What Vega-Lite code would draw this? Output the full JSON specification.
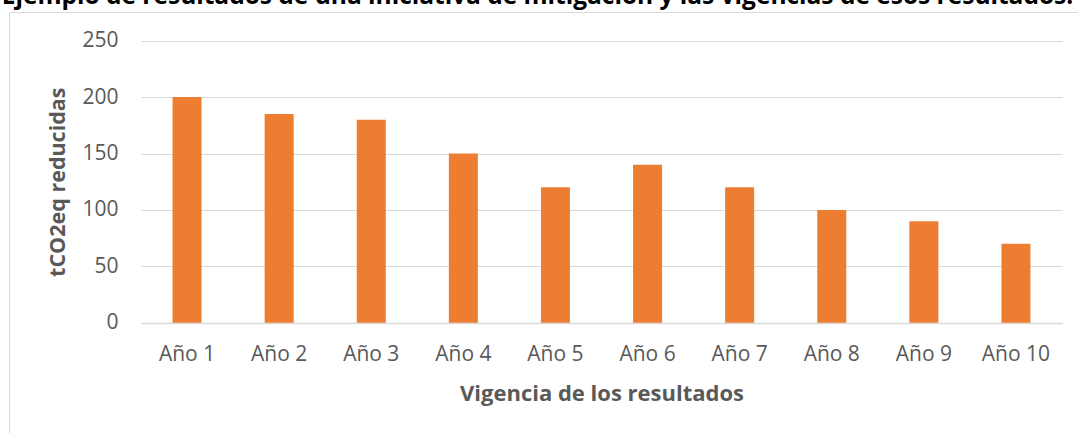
{
  "$schema": "https://vega.github.io/schema/vega-lite/v6.json",
  "autosize": {"type": "none"},
  "padding": {"left": 9, "top": 12, "right": 0, "bottom": 0},
  "width": 1069,
  "height": 421,
  "background": "white",
  "config": {
    "view": {"stroke": "#d9d9d9", "strokeWidth": 1},
    "font": "Open Sans"
  },
  "title": {
    "text": "Ejemplo de resultados de una iniciativa de mitigación y las vigencias de esos resultados.",
    "font": "Open Sans",
    "fontSize": 24.5,
    "fontWeight": "bold",
    "color": "#000000",
    "anchor": "middle",
    "baseline": "alphabetic",
    "offset": 7,
    "dy": 23,
    "dx": -6
  },
  "data": {
    "values": [
      {"anio": "Año 1", "valor": 200},
      {"anio": "Año 2", "valor": 185},
      {"anio": "Año 3", "valor": 180},
      {"anio": "Año 4", "valor": 150},
      {"anio": "Año 5", "valor": 120},
      {"anio": "Año 6", "valor": 140},
      {"anio": "Año 7", "valor": 120},
      {"anio": "Año 8", "valor": 100},
      {"anio": "Año 9", "valor": 90},
      {"anio": "Año 10", "valor": 70}
    ]
  },
  "mark": {"type": "bar", "color": "#ED7D31"},
  "encoding": {
    "x": {
      "field": "anio",
      "type": "nominal",
      "sort": null,
      "scale": {"range": [132, 1053], "paddingInner": 0.685, "paddingOuter": 0.3425},
      "axis": {
        "title": "Vigencia de los resultados",
        "titleFont": "Open Sans",
        "titleFontSize": 22,
        "titleFontWeight": "bold",
        "titleColor": "#595959",
        "titlePadding": 19,
        "labelFont": "Open Sans",
        "labelFontSize": 21,
        "labelColor": "#595959",
        "labelAngle": 0,
        "labelPadding": 20,
        "ticks": false,
        "domain": true,
        "domainColor": "#d9d9d9",
        "domainWidth": 1.5,
        "offset": -110,
        "grid": false
      }
    },
    "y": {
      "field": "valor",
      "type": "quantitative",
      "scale": {"domain": [0, 250], "range": [310.7, 28.7], "nice": false},
      "axis": {
        "title": "tCO2eq reducidas",
        "titleFont": "Open Sans",
        "titleFontSize": 21.5,
        "titleFontWeight": "bold",
        "titleColor": "#595959",
        "titlePadding": 12,
        "labelFont": "Open Sans",
        "labelFontSize": 21,
        "labelColor": "#595959",
        "labelPadding": 23,
        "values": [0, 50, 100, 150, 200, 250],
        "ticks": false,
        "domain": false,
        "grid": true,
        "gridColor": "#d9d9d9",
        "gridWidth": 1,
        "offset": -132
      }
    }
  }
}
